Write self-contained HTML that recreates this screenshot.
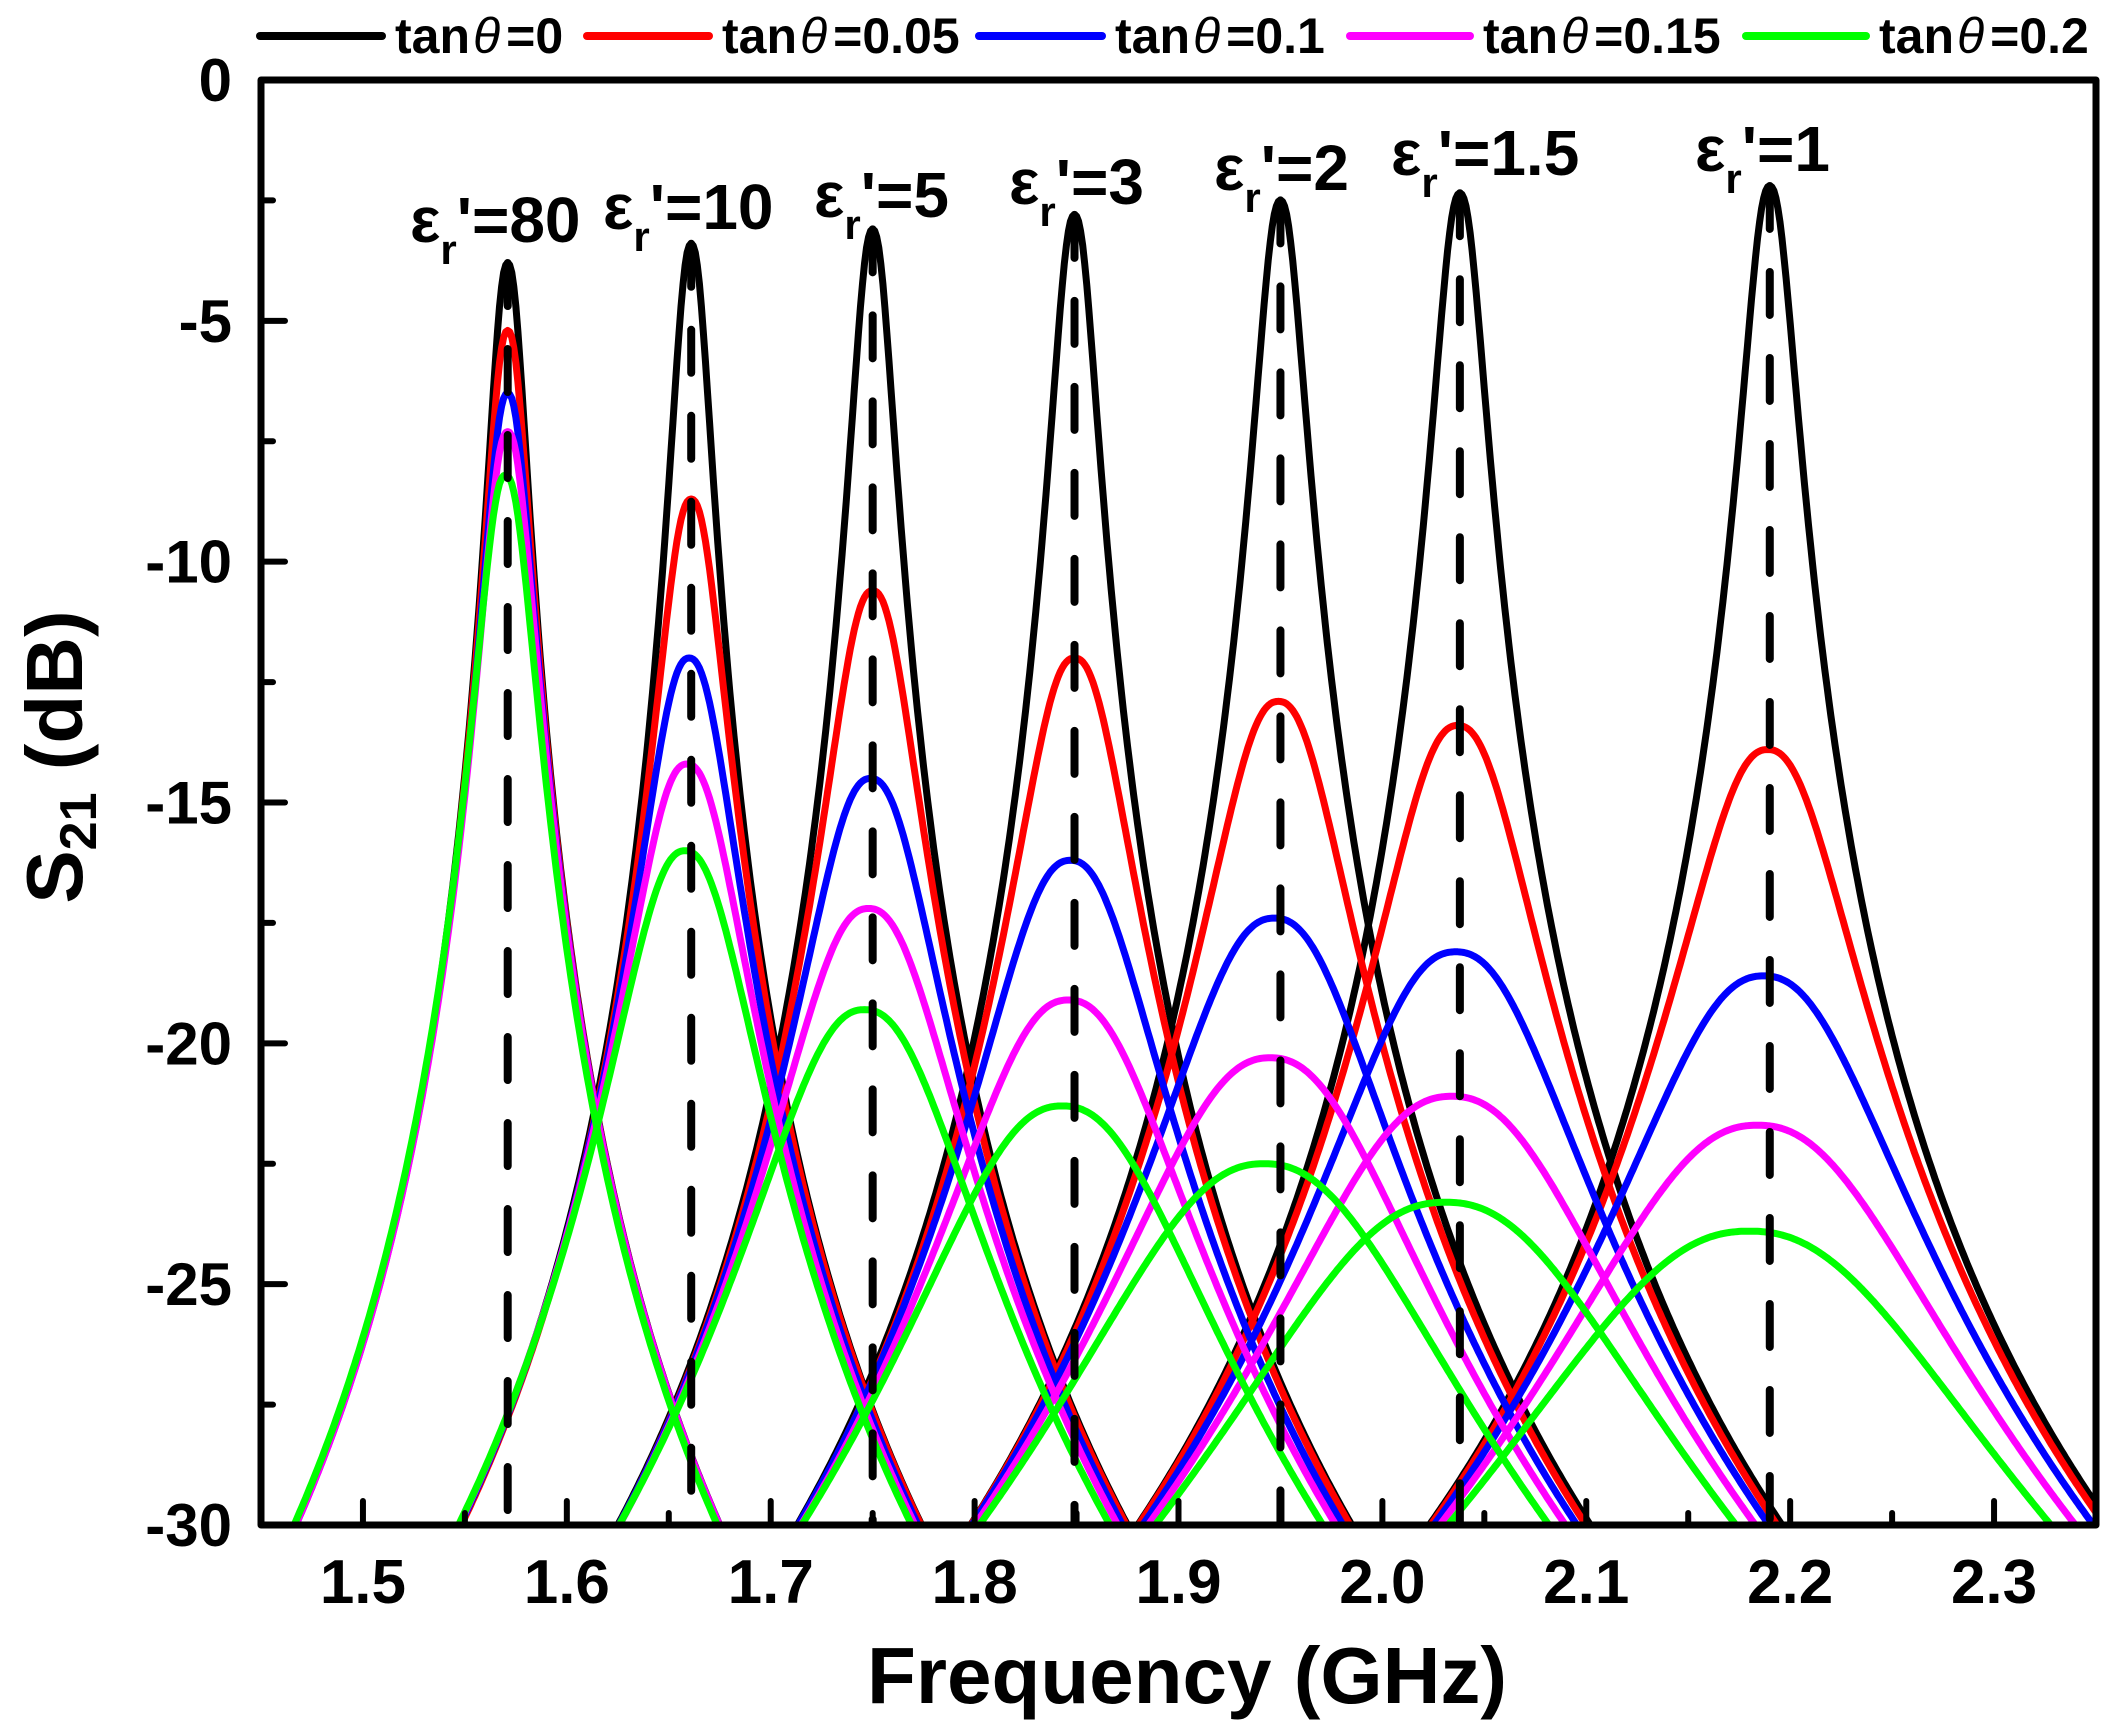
<!DOCTYPE html>
<html><head><meta charset="utf-8"><style>
html,body{margin:0;padding:0;background:#fff;}
svg{display:block;font-family:"Liberation Sans",Arial,sans-serif;font-weight:bold;}
</style></head><body>
<svg id="chart" width="2127" height="1728" viewBox="0 0 2127 1728" xmlns="http://www.w3.org/2000/svg"></svg>
<script>
// ---- data ----
const epsLabels = ["80","10","5","3","2","1.5","1"];
const lossTangents = ["0","0.05","0.1","0.15","0.2"];
const seriesColors = ["#000000","#ff0000","#0000ff","#ff00ff","#00ff00"];
const centersBlack = [1.571,1.661,1.750,1.849,1.950,2.038,2.190];
const centersRed = [1.571,1.661,1.750,1.849,1.949,2.037,2.189];
const centersBlue = [1.571,1.660,1.749,1.847,1.947,2.036,2.187];
const centersMagenta = [1.571,1.659,1.748,1.846,1.945,2.034,2.184];
const centersGreen = [1.570,1.658,1.746,1.843,1.942,2.031,2.180];
const peaksBlack = [-3.8,-3.4,-3.1,-2.8,-2.5,-2.35,-2.2];
const peaksRed = [-5.2,-8.7,-10.6,-12.0,-12.9,-13.4,-13.9];
const peaksBlue = [-6.5,-12.0,-14.5,-16.2,-17.4,-18.1,-18.6];
const peaksMagenta = [-7.3,-14.2,-17.2,-19.1,-20.3,-21.1,-21.7];
const peaksGreen = [-8.2,-16.0,-19.3,-21.3,-22.5,-23.3,-23.9];
// half-width (GHz) of the lossless curve where it reaches -30 dB
const halfWidth30 = [0.104,0.113,0.125,0.136,0.152,0.158,0.167];
const xTicks = [1.5,1.6,1.7,1.8,1.9,2.0,2.1,2.2,2.3];
const xTickLabels = ["1.5","1.6","1.7","1.8","1.9","2.0","2.1","2.2","2.3"];
const yTicks = [0,-5,-10,-15,-20,-25,-30];
const yTickLabels = ["0","-5","-10","-15","-20","-25","-30"];

const allCenters=[centersBlack,centersRed,centersBlue,centersMagenta,centersGreen];
const allPeaks=[peaksBlack,peaksRed,peaksBlue,peaksMagenta,peaksGreen];

// ---- axes ----
const L=261,R=2096,T=80,B=1525, X0=1.45,X1=2.35,Y0=-30,Y1=0;
function sx(v){return L+(v-X0)/(X1-X0)*(R-L);}
function sy(v){return B-(v-Y0)/(Y1-Y0)*(B-T);}
const NS="http://www.w3.org/2000/svg";
const svg=document.getElementById('chart');
function mk(tag,attrs,parent){const e=document.createElementNS(NS,tag);for(const k in attrs)e.setAttribute(k,attrs[k]);(parent||svg).appendChild(e);return e;}

const clip=mk('clipPath',{id:'plotclip'});
mk('rect',{x:L,y:T,width:R-L,height:B-T},clip);

const N=2.3;
const curves=mk('g',{'clip-path':'url(#plotclip)'});


for(let s=0;s<5;s++){
  for(let i=0;i<epsLabels.length;i++){
    const pb=peaksBlack[i], p=allPeaks[s][i], c=allCenters[s][i];
    const xb=Math.pow(Math.pow(10,(pb-(-30))/10)-1,1/N);
    const wb=halfWidth30[i]/xb;
    const w=wb*Math.pow(10,(pb-p)/(10*N));
    let d='';
    for(let k=0;k<=900;k++){
      const f=X0+(X1-X0)*k/900;
      const u=Math.abs(f-c)/w;
      let db=p-10*Math.log10(1+Math.pow(u,N));
      if(db<-32)db=-32;
      d+=(k?'L':'M')+sx(f).toFixed(1)+' '+sy(db).toFixed(1);
    }
    const path=mk('path',{d:d,fill:'none',stroke:seriesColors[s],'stroke-width':7,'stroke-linejoin':'round'},curves);
    
    
  }
}
// dashed resonance markers
for(let i=0;i<epsLabels.length;i++){
  const dl=mk('line',{x1:sx(centersBlack[i]),x2:sx(centersBlack[i]),y1:sy(peaksBlack[i]),y2:B,stroke:'#000','stroke-width':8,'stroke-dasharray':'43 43','stroke-linecap':'round'},curves);
  
  
}

// frame
const frame=mk('rect',{x:L,y:T,width:R-L,height:B-T,fill:'none',stroke:'#000','stroke-width':7,'stroke-linejoin':'round'});



// x ticks
for(let i=0;i<xTicks.length;i++){
  const x=sx(xTicks[i]);
  const t=mk('line',{x1:x,x2:x,y1:B,y2:B-24,stroke:'#000','stroke-width':6,'stroke-linecap':'round'});
  
  
  const lb=mk('text',{x:x,y:1603,'font-size':62,'text-anchor':'middle'});
  lb.textContent=xTickLabels[i];
  
  
}
for(let v=1.45;v<2.351;v+=0.1){
  const x=sx(v);
  if(x<=L+3||x>=R-3)continue;
  const t=mk('line',{x1:x,x2:x,y1:B,y2:B-12,stroke:'#000','stroke-width':6,'stroke-linecap':'round'});
  
  
}
// y ticks
for(let i=0;i<yTicks.length;i++){
  const y=sy(yTicks[i]);
  const t=mk('line',{x1:L,x2:L+24,y1:y,y2:y,stroke:'#000','stroke-width':6,'stroke-linecap':'round'});
  
  
  const lb=mk('text',{x:232,y:y+21,'font-size':60,'text-anchor':'end'});
  lb.textContent=yTickLabels[i];
  
  
}
for(let v=-2.5;v>-30;v-=5){
  const y=sy(v);
  const t=mk('line',{x1:L,x2:L+12,y1:y,y2:y,stroke:'#000','stroke-width':6,'stroke-linecap':'round'});
  
  
}

// axis titles
const xt=mk('text',{x:1187,y:1703,'font-size':80,'text-anchor':'middle'});
xt.textContent='Frequency (GHz)';


const yt=mk('text',{x:0,y:0,'font-size':80,'text-anchor':'middle',transform:'translate(82,757) rotate(-90)'});
yt.innerHTML='S<tspan font-size="52" dy="14">21</tspan><tspan dy="-14"> (dB)</tspan>';



// epsilon labels
const labelX=[410,603,814,1009,1214,1391,1695];
const labelY=[242,229,217,204,190,175,171];
for(let i=0;i<epsLabels.length;i++){
  const t=mk('text',{x:labelX[i],y:labelY[i],'font-size':64});
  t.innerHTML='ε<tspan font-size="42" dy="22">r</tspan><tspan dy="-22">\'='+epsLabels[i]+'</tspan>';
  
  
}

// legend
const legLine=[[260,382],[587,709],[979,1102],[1350,1470],[1746,1866]];
for(let s=0;s<5;s++){
  const g=mk('g',{});
  
  
  mk('line',{x1:legLine[s][0],x2:legLine[s][1],y1:36,y2:36,stroke:seriesColors[s],'stroke-width':8,'stroke-linecap':'round'},g);
  const t=mk('text',{x:legLine[s][1]+13,y:53,'font-size':50},g);
  t.innerHTML='tan<tspan font-style="italic" font-weight="normal" dx="3">θ</tspan><tspan dx="6">=' + lossTangents[s]+'</tspan>';
}
</script>
</body></html>
